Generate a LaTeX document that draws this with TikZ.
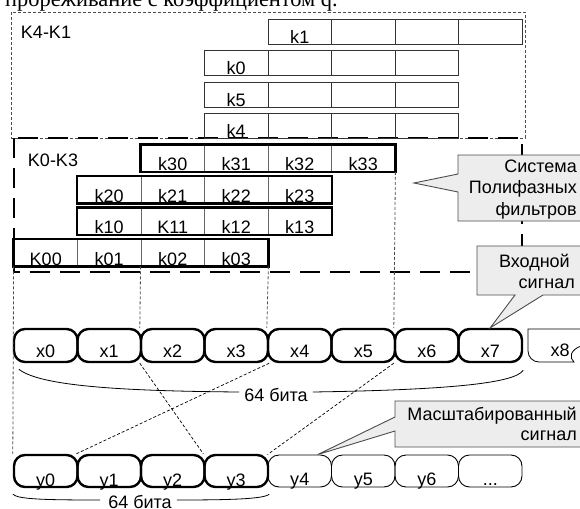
\documentclass[tikz,border=0pt]{standalone}
\usepackage{fontspec}
\setmainfont{Liberation Serif}
\setsansfont{Liberation Sans}
\usetikzlibrary{calc}
\begin{document}
\begin{tikzpicture}[x=1pt,y=-1pt,
  lbl/.style={font=\sffamily\fontsize{18}{21}\selectfont, inner sep=0pt, anchor=base},
  rlbl/.style={font=\sffamily\fontsize{18}{21}\selectfont, inner sep=0pt, anchor=base east},
  cellthin/.style={draw=black!80, line width=0.9pt, minimum width=63.5pt, minimum height=25pt, inner sep=0pt},
  cellgray/.style={draw=black!60, line width=0.8pt, minimum width=63.5pt, minimum height=26.5pt, inner sep=0pt},
  thickline/.style={draw=black, line width=2.4pt},
  xbox/.style={draw=black, line width=2.4pt, rounded corners=11pt, minimum width=63.5pt, minimum height=33pt, inner sep=0pt},
  ybox/.style={draw=black, line width=2.4pt, rounded corners=11pt, minimum width=63.5pt, minimum height=32pt, inner sep=0pt},
  yboxthin/.style={draw=black, line width=0.9pt, rounded corners=11pt, minimum width=63.5pt, minimum height=32pt, inner sep=0pt},
  thindash/.style={draw=black!70, line width=0.8pt, dash pattern=on 3pt off 2pt},
  thickdash/.style={draw=black, line width=2.4pt, dash pattern=on 20pt off 10pt},
  guide/.style={draw=black!70, line width=0.8pt, dash pattern=on 3pt off 2pt},
  link/.style={draw=black, line width=0.7pt, dash pattern=on 3pt off 2pt},
  bracel/.style={draw=black, line width=0.8pt},
  callout/.style={draw=black!70, fill=black!7, line width=0.9pt}
]
\useasboundingbox (0,0) rectangle (580,508);
\clip (0,0) rectangle (580,508);

% title line (cut off at top)
\node[font=\fontsize{22.4}{24}\selectfont, inner sep=0pt, anchor=base west] (title) at (5,7) {прореживание с коэффициентом q.};

% group frames
\draw[thindash] (11,12) rectangle (525,138);
\draw[thickdash] (14,138) rectangle (522,272);
\node[lbl] (g1) at (46,39) {K4-K1};
\node[lbl] (g2) at (53,166) {K0-K3};

% thin coefficient rows
\foreach \nm/\tp/\fst/\tx in {ra/19/4/k1, rb/50.5/3/k0, rc/82/3/k5, rd/113.5/3/k4}{
  \foreach \i in {0,1,2,3}{
    \node[cellthin] (\nm\i) at ({14+63.5*(\fst+\i+0.5)}, {\tp+12.5}) {};
  }
  \node[lbl] (\nm-t) at ($(\nm0.south)+(0,-1)$) {\tx};
}

% thick coefficient rows
\foreach \nm/\tp/\fst/\ta/\tb/\tc/\td in {sa/145/2/k30/k31/k32/k33, sb/176.5/1/k20/k21/k22/k23, sc/208/1/k10/K11/k12/k13, sd/239.5/0/K00/k01/k02/k03}{
  \foreach \i/\tx in {0/\ta,1/\tb,2/\tc,3/\td}{
    \node[cellgray] (\nm\i) at ({14+63.5*(\fst+\i+0.5)}, {\tp+13.25}) {};
    \node[lbl] (\nm\i-t) at ($(\nm\i.south)+(0,-1)$) {\tx};
  }
  \draw[thickline] (\nm0.north west) rectangle (\nm3.south east);
}

% input signal row
\foreach \i in {0,1,2,3,4,5,6,7}{
  \node[xbox] (x\i) at ({14+63.5*(\i+0.5)}, 345.5) {};
  \node[lbl] (x\i-t) at ($(x\i.south)+(0,-6)$) {x\i};
}
\draw[draw=black, line width=0.8pt] (584,329) -- (528,329) -- (528,351) arc[start angle=180, end angle=90, x radius=11pt, y radius=-11pt] -- (574,362)
  .. controls (569,358) and (570,350) .. (581,346);
\node[lbl] (x8-t) at (560,356) {x8};

% scaled signal row
\foreach \i in {0,1,2,3}{
  \node[ybox] (y\i) at ({14+63.5*(\i+0.5)}, 471) {};
  \node[lbl] (y\i-t) at ($(y\i.south)+(0,-2)$) {y\i};
}
\foreach \i in {4,5,6,7}{
  \node[yboxthin] (y\i) at ({14+63.5*(\i+0.5)}, 471) {};
}
\node[lbl] (y4-t) at ($(y4.south)+(0,-2)$) {y4};
\node[lbl] (y5-t) at ($(y5.south)+(0,-2)$) {y5};
\node[lbl] (y6-t) at ($(y6.south)+(0,-2)$) {y6};
\node[lbl] (y7-t) at ($(y7.south)+(0,-2)$) {...};

% guide lines
\draw[guide] (sd0.south west) -- (y0.north west);
\draw[guide] (sd2.south west) -- (x2.north west);
\draw[guide] (sd3.south east) -- (x4.north west);
\draw[guide] (sa3.south east) -- (x6.north west);

% mapping links
\draw[link] (x2.south west) -- (y3.north west);
\draw[link] (x3.south east) -- (y1.north west);
\draw[link] (x6.south west) -- (y4.north west);

% braces
\node[lbl] (w1) at (276,401) {64 бита};
\draw[bracel] ($(x0.south west)+(6,6)$) .. controls (40,386) and (120,391) .. ($(w1.base west)+(-5,-9)$);
\draw[bracel] ($(w1.base east)+(5,-9)$) .. controls (440,390) and (515,384) .. ($(x7.south east)+(0,7)$);
\node[lbl] (w2) at (140,508) {64 бита};
\draw[bracel] ($(y0.south west)+(0,6)$) .. controls (18,499) and (40,500) .. ($(w2.base west)+(-8,-8)$);
\draw[bracel] ($(w2.base east)+(5,-8)$) .. controls (230,500) and (264,499) .. ($(y3.south east)+(0,6)$);

% callouts
\coordinate (sysptr) at (414,183);
\draw[callout] (458,155) -- (600,155) -- (600,221) -- (458,221) -- (458,192) -- (sysptr) -- (458,174) -- cycle;
\node[rlbl] (s1) at (577,172) {Система};
\node[rlbl] (s2) at (577,193.5) {Полифазных};
\node[rlbl] (s3) at (577,215) {фильтров};

\draw[callout] (477,246) -- (600,246) -- (600,295) -- (543,295) -- (x7.north) -- (515,295) -- (477,295) -- cycle;
\node[rlbl] (i1) at (570,267) {Входной};
\node[rlbl] (i2) at (575,288) {сигнал};

\draw[callout] (395,401) -- (600,401) -- (600,447) -- (395,447) -- (395,431) -- ($(y4.north)+(18,0)$) -- (395,417) -- cycle;
\node[rlbl] (m1) at (577,420) {Масштабированный};
\node[rlbl] (m2) at (577,440) {сигнал};
\end{tikzpicture}
\end{document}
